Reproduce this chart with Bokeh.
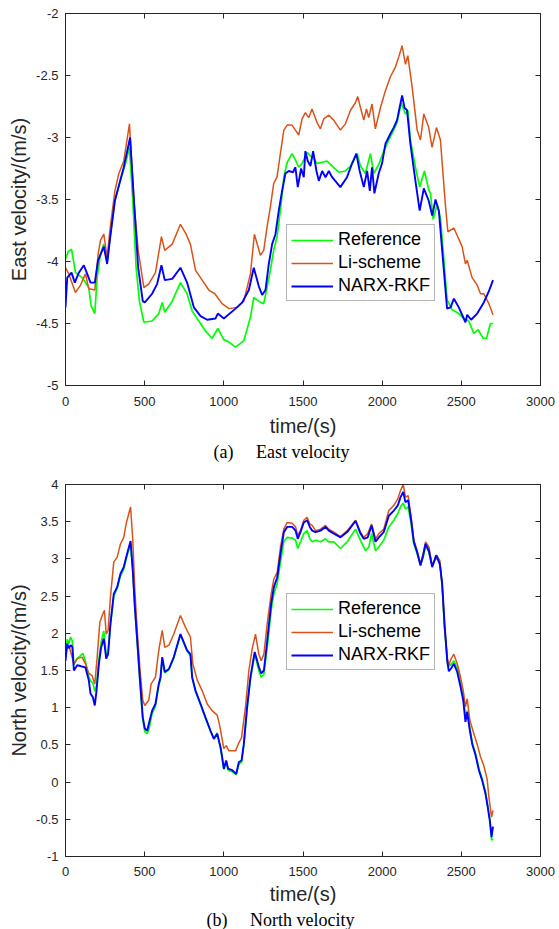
from bokeh.plotting import figure
from bokeh.models import Range1d, LinearAxis, FixedTicker, Title, Legend
from bokeh.layouts import column
from bokeh.embed import file_html
from bokeh.resources import INLINE

# ---------------- data ----------------
# (a) East velocity
east_ref_t = [0, 6, 17, 38, 63, 105, 126, 147, 162, 185, 200, 221, 242, 263, 284, 312, 341, 379, 404, 425,
              446, 467, 495, 547, 589, 611, 627, 674, 726, 768, 800, 842, 884, 926, 962, 1000, 1032, 1074,
              1126, 1168, 1189, 1221, 1252, 1273, 1294, 1315, 1336, 1357, 1379, 1400, 1431, 1452, 1473,
              1494, 1526, 1547, 1568, 1589, 1621, 1652, 1684, 1726, 1768, 1800, 1842, 1863, 1894, 1926,
              1947, 1978, 2010, 2042, 2073, 2094, 2120, 2147, 2162, 2178, 2210, 2237, 2267, 2294, 2305,
              2322, 2347, 2368, 2390, 2410, 2442, 2484, 2516, 2547, 2579, 2606, 2638, 2659, 2684, 2700]
east_ref_v = [-3.98, -3.96, -3.92, -3.90, -4.09, -4.13, -4.17, -4.21, -4.36, -4.42, -4.13, -3.94, -3.86,
              -4.00, -3.78, -3.51, -3.37, -3.21, -3.08, -3.51, -4.05, -4.32, -4.49, -4.48, -4.42, -4.33,
              -4.41, -4.32, -4.17, -4.26, -4.40, -4.48, -4.56, -4.62, -4.54, -4.63, -4.65, -4.69, -4.64,
              -4.45, -4.29, -4.32, -4.34, -4.21, -4.07, -3.91, -3.80, -3.59, -3.32, -3.20, -3.13, -3.18,
              -3.24, -3.21, -3.12, -3.15, -3.17, -3.21, -3.20, -3.19, -3.23, -3.28, -3.27, -3.23, -3.13,
              -3.23, -3.29, -3.13, -3.29, -3.22, -3.11, -3.02, -2.94, -2.88, -2.72, -2.81, -2.78, -3.02,
              -3.24, -3.40, -3.27, -3.42, -3.45, -3.66, -3.54, -3.65, -3.99, -4.31, -4.39, -4.42, -4.46,
              -4.48, -4.58, -4.55, -4.62, -4.62, -4.50, -4.50]

east_li_t = [0, 21, 63, 95, 126, 147, 185, 206, 221, 242, 263, 280, 312, 337, 368, 404, 432, 459, 495, 526,
             568, 606, 627, 674, 726, 762, 789, 821, 863, 905, 943, 989, 1032, 1084, 1126, 1168, 1193, 1231,
             1252, 1273, 1294, 1315, 1336, 1357, 1379, 1400, 1431, 1452, 1473, 1494, 1515, 1536, 1557, 1589,
             1610, 1631, 1663, 1694, 1736, 1768, 1800, 1831, 1846, 1863, 1884, 1901, 1915, 1936, 1957, 1989,
             2021, 2052, 2084, 2105, 2126, 2147, 2162, 2189, 2221, 2242, 2263, 2294, 2315, 2343, 2368, 2399,
             2415, 2453, 2484, 2505, 2526, 2537, 2568, 2600, 2621, 2642, 2674, 2700]
east_li_v = [-4.05, -4.10, -4.25, -4.19, -4.10, -4.22, -4.23, -3.94, -3.83, -3.78, -3.97, -3.75, -3.43,
             -3.29, -3.19, -2.89, -3.51, -3.91, -4.21, -4.18, -4.09, -3.80, -3.91, -3.86, -3.70, -3.78,
             -3.86, -4.07, -4.15, -4.23, -4.26, -4.34, -4.38, -4.37, -4.32, -4.10, -3.78, -3.95, -3.91,
             -3.72, -3.56, -3.37, -3.32, -3.13, -2.94, -2.90, -2.90, -2.94, -2.98, -2.85, -2.80, -2.84,
             -2.77, -2.88, -2.93, -2.85, -2.82, -2.86, -2.94, -2.89, -2.78, -2.72, -2.67, -2.76, -2.86,
             -2.77, -2.84, -2.73, -2.93, -2.76, -2.62, -2.51, -2.43, -2.35, -2.26, -2.41, -2.34, -2.59,
             -2.94, -3.02, -2.81, -2.92, -3.08, -2.92, -3.02, -3.54, -3.76, -3.73, -3.82, -3.88, -4.02,
             -3.99, -4.13, -4.19, -4.26, -4.26, -4.34, -4.43]

east_narx_t = [0, 11, 38, 59, 84, 116, 137, 158, 185, 206, 242, 263, 280, 312, 337, 368, 408, 434, 459, 488,
               501, 547, 579, 606, 627, 674, 726, 768, 811, 853, 895, 947, 962, 1000, 1074, 1116, 1158, 1189,
               1221, 1242, 1263, 1284, 1305, 1326, 1347, 1368, 1389, 1410, 1437, 1452, 1467, 1488, 1505,
               1515, 1530, 1547, 1564, 1585, 1600, 1621, 1642, 1663, 1684, 1736, 1778, 1810, 1837, 1858,
               1884, 1905, 1922, 1936, 1951, 1978, 1999, 2021, 2052, 2073, 2094, 2126, 2141, 2157, 2178,
               2210, 2237, 2263, 2294, 2316, 2337, 2358, 2379, 2410, 2432, 2453, 2484, 2526, 2537, 2562,
               2600, 2642, 2674, 2700]
east_narx_v = [-4.37, -4.13, -4.09, -4.17, -4.09, -4.03, -4.10, -4.17, -4.17, -3.99, -3.88, -4.02, -3.83,
               -3.51, -3.39, -3.24, -3.00, -3.54, -4.05, -4.32, -4.33, -4.26, -4.18, -4.03, -4.15, -4.14,
               -4.05, -4.17, -4.37, -4.44, -4.47, -4.46, -4.42, -4.46, -4.38, -4.33, -4.23, -4.05, -4.20,
               -4.27, -4.23, -4.02, -3.86, -3.78, -3.59, -3.43, -3.29, -3.27, -3.28, -3.24, -3.40, -3.25,
               -3.32, -3.11, -3.19, -3.23, -3.11, -3.27, -3.35, -3.27, -3.32, -3.27, -3.32, -3.40, -3.32,
               -3.21, -3.13, -3.27, -3.40, -3.27, -3.43, -3.24, -3.45, -3.29, -3.21, -3.05, -2.97, -2.92,
               -2.86, -2.66, -2.76, -2.78, -3.05, -3.35, -3.59, -3.41, -3.51, -3.63, -3.50, -3.59, -3.91,
               -4.38, -4.37, -4.30, -4.37, -4.49, -4.43, -4.47, -4.42, -4.33, -4.24, -4.15]

# (b) North velocity
north_ref_t = [0, 11, 21, 32, 43, 53, 74, 95, 110, 126, 147, 158, 173, 185, 196, 211, 225, 242, 257, 269,
               284, 305, 326, 347, 368, 389, 411, 425, 438, 453, 469, 488, 501, 516, 526, 547, 568, 589, 600,
               611, 627, 653, 684, 726, 768, 789, 800, 821, 853, 884, 916, 937, 958, 979, 989, 1000, 1015,
               1027, 1053, 1078, 1095, 1112, 1126, 1147, 1168, 1195, 1221, 1236, 1253, 1274, 1299, 1316,
               1337, 1358, 1379, 1400, 1432, 1453, 1467, 1484, 1505, 1526, 1543, 1558, 1579, 1611, 1642,
               1663, 1695, 1737, 1779, 1832, 1863, 1895, 1916, 1933, 1958, 1979, 2010, 2042, 2074, 2099,
               2116, 2133, 2147, 2164, 2183, 2200, 2221, 2242, 2259, 2274, 2295, 2316, 2343, 2364, 2379,
               2394, 2415, 2436, 2453, 2474, 2495, 2512, 2526, 2537, 2554, 2569, 2590, 2611, 2632, 2653,
               2667, 2680, 2691, 2700]
north_ref_v = [1.70, 1.92, 1.86, 1.95, 1.90, 1.58, 1.66, 1.70, 1.73, 1.62, 1.42, 1.36, 1.33, 1.22, 1.30,
               1.65, 1.88, 2.03, 1.70, 1.75, 2.12, 2.50, 2.60, 2.77, 2.86, 3.05, 3.20, 2.84, 2.35, 1.88,
               1.38, 0.84, 0.68, 0.65, 0.70, 0.92, 1.02, 1.30, 1.38, 1.66, 1.47, 1.51, 1.67, 1.98, 1.76,
               1.70, 1.40, 1.22, 1.04, 0.86, 0.68, 0.59, 0.66, 0.46, 0.33, 0.17, 0.27, 0.16, 0.14, 0.10,
               0.24, 0.27, 0.49, 0.98, 1.38, 1.72, 1.50, 1.41, 1.45, 1.81, 2.31, 2.53, 2.67, 2.96, 3.23,
               3.29, 3.28, 3.25, 3.14, 3.23, 3.34, 3.38, 3.27, 3.23, 3.25, 3.23, 3.27, 3.23, 3.23, 3.14,
               3.23, 3.40, 3.25, 3.11, 3.16, 3.34, 3.11, 3.16, 3.25, 3.43, 3.52, 3.61, 3.70, 3.75, 3.67,
               3.70, 3.47, 3.20, 3.07, 2.93, 3.02, 3.18, 3.09, 2.91, 3.02, 2.96, 2.64, 2.06, 1.55, 1.58,
               1.63, 1.53, 1.33, 1.14, 0.88, 0.96, 0.72, 0.53, 0.38, 0.18, 0.04, -0.14, -0.32, -0.50,
               -0.78, -0.76]

north_li_t = [0, 11, 25, 53, 74, 105, 126, 147, 168, 185, 200, 217, 232, 246, 257, 269, 284, 305, 326, 347,
              368, 383, 400, 411, 425, 438, 453, 469, 488, 501, 526, 541, 568, 589, 611, 627, 653, 684, 726,
              758, 789, 804, 832, 863, 895, 926, 958, 972, 989, 1000, 1015, 1032, 1074, 1091, 1112, 1137,
              1158, 1179, 1200, 1221, 1236, 1253, 1274, 1299, 1316, 1337, 1358, 1379, 1400, 1432, 1453,
              1467, 1484, 1505, 1526, 1543, 1558, 1579, 1611, 1642, 1663, 1695, 1737, 1779, 1832, 1863,
              1884, 1909, 1933, 1958, 1979, 2010, 2042, 2074, 2099, 2116, 2133, 2147, 2164, 2183, 2200,
              2221, 2242, 2259, 2274, 2295, 2316, 2343, 2364, 2379, 2394, 2411, 2421, 2436, 2453, 2474,
              2495, 2512, 2526, 2537, 2554, 2579, 2600, 2621, 2642, 2663, 2674, 2691, 2700]
north_li_v = [1.68, 1.84, 1.81, 1.59, 1.66, 1.68, 1.59, 1.46, 1.43, 1.32, 1.68, 2.15, 2.24, 2.31, 1.99,
              2.04, 2.49, 2.96, 3.02, 3.20, 3.29, 3.47, 3.61, 3.70, 3.25, 2.58, 2.04, 1.55, 1.10, 1.03,
              1.10, 1.32, 1.41, 1.77, 2.04, 1.81, 1.84, 1.99, 2.24, 2.08, 1.95, 1.59, 1.37, 1.23, 1.05,
              0.96, 0.90, 0.78, 0.58, 0.45, 0.49, 0.42, 0.42, 0.51, 0.60, 1.01, 1.50, 1.79, 1.99, 1.72,
              1.63, 1.72, 2.13, 2.53, 2.73, 2.82, 3.16, 3.40, 3.49, 3.48, 3.43, 3.32, 3.38, 3.52, 3.56,
              3.47, 3.45, 3.38, 3.40, 3.45, 3.40, 3.36, 3.30, 3.38, 3.52, 3.36, 3.29, 3.34, 3.47, 3.27,
              3.34, 3.40, 3.65, 3.72, 3.81, 3.92, 4.00, 3.83, 3.85, 3.56, 3.25, 3.11, 2.93, 3.07, 3.23,
              3.16, 2.91, 3.05, 2.98, 2.62, 2.08, 1.68, 1.57, 1.66, 1.72, 1.59, 1.41, 1.23, 1.01, 1.12,
              0.83, 0.65, 0.51, 0.34, 0.22, 0.04, -0.20, -0.47, -0.38]

north_narx_t = [0, 11, 21, 32, 43, 53, 74, 95, 126, 147, 158, 173, 185, 196, 211, 225, 242, 257, 269, 284,
                305, 326, 347, 368, 389, 411, 425, 438, 453, 469, 488, 501, 516, 526, 547, 568, 589, 600,
                611, 627, 653, 684, 726, 768, 789, 800, 821, 853, 884, 916, 937, 958, 979, 989, 1000, 1015,
                1027, 1053, 1078, 1095, 1112, 1126, 1147, 1168, 1195, 1221, 1236, 1253, 1274, 1299, 1316,
                1337, 1358, 1379, 1400, 1432, 1453, 1467, 1484, 1505, 1526, 1543, 1558, 1579, 1611, 1642,
                1663, 1695, 1737, 1779, 1832, 1863, 1884, 1909, 1933, 1958, 1979, 2010, 2042, 2074, 2099,
                2116, 2133, 2147, 2164, 2183, 2200, 2221, 2242, 2259, 2274, 2295, 2316, 2341, 2364, 2379,
                2394, 2411, 2421, 2436, 2453, 2474, 2495, 2512, 2526, 2537, 2554, 2569, 2590, 2611, 2632,
                2653, 2667, 2680, 2691, 2700]
north_narx_v = [1.63, 1.86, 1.80, 1.84, 1.82, 1.50, 1.57, 1.56, 1.54, 1.37, 1.19, 1.14, 1.03, 1.23, 1.59,
                1.81, 1.93, 1.66, 1.72, 2.13, 2.53, 2.62, 2.80, 2.89, 3.07, 3.24, 2.84, 2.35, 1.90, 1.41,
                0.87, 0.72, 0.69, 0.78, 0.96, 1.05, 1.32, 1.41, 1.68, 1.48, 1.52, 1.68, 1.99, 1.77, 1.72,
                1.41, 1.23, 1.05, 0.87, 0.69, 0.58, 0.65, 0.47, 0.34, 0.18, 0.29, 0.18, 0.16, 0.11, 0.27,
                0.29, 0.51, 1.01, 1.41, 1.75, 1.55, 1.46, 1.50, 1.90, 2.40, 2.62, 2.75, 3.07, 3.36, 3.43,
                3.43, 3.38, 3.27, 3.36, 3.49, 3.52, 3.43, 3.38, 3.36, 3.38, 3.43, 3.38, 3.34, 3.29, 3.36,
                3.51, 3.34, 3.27, 3.29, 3.45, 3.23, 3.29, 3.36, 3.58, 3.65, 3.72, 3.83, 3.90, 3.76, 3.79,
                3.52, 3.23, 3.09, 2.91, 3.05, 3.20, 3.11, 2.89, 3.05, 2.93, 2.67, 2.13, 1.63, 1.49, 1.53,
                1.59, 1.48, 1.28, 1.10, 0.81, 0.94, 0.69, 0.51, 0.36, 0.16, 0.02, -0.16, -0.34, -0.52,
                -0.74, -0.60]

series_names = ["Reference", "Li-scheme", "NARX-RKF"]
series_colors = ["#00ff00", "#d95319", "#0000ff"]
series_widths = [1.7, 1.5, 1.9]

x_ticks = [0, 500, 1000, 1500, 2000, 2500, 3000]
x_tick_labels = ["0", "500", "1000", "1500", "2000", "2500", "3000"]
east_ticks = [-5, -4.5, -4, -3.5, -3, -2.5, -2]
east_tick_labels = ["-5", "-4.5", "-4", "-3.5", "-3", "-2.5", "-2"]
north_ticks = [-1, -0.5, 0, 0.5, 1, 1.5, 2, 2.5, 3, 3.5, 4]
north_tick_labels = ["-1", "-0.5", "0", "0.5", "1", "1.5", "2", "2.5", "3", "3.5", "4"]

SANS = "Liberation Sans"
SERIF = "Liberation Serif"
AX = "#262626"


def style_axis(ax, ticks, labels, show_labels=True):
    ax.ticker = FixedTicker(ticks=ticks)
    ax.minor_tick_line_color = None
    ax.major_tick_in = 5
    ax.major_tick_out = 0
    ax.major_tick_line_color = AX
    ax.axis_line_color = AX
    ax.axis_line_width = 1
    if show_labels:
        ax.major_label_overrides = {t: l for t, l in zip(ticks, labels)}
        ax.major_label_text_font = SANS
        ax.major_label_text_font_size = "13px"
        ax.major_label_text_color = AX
    else:
        ax.major_label_overrides = {t: "" for t in ticks}
        ax.major_label_text_font_size = "1px"
        ax.major_label_standoff = 0


def make_panel(height, border_top, border_bottom, y_range, yticks, ylabels, ylabel,
               series, caption, cap_offset, legend_loc, tick_standoff, label_standoff, cap_standoff):
    p = figure(width=559, height=height, x_range=Range1d(0, 3000), y_range=Range1d(*y_range),
               output_backend="svg", toolbar_location=None,
               min_border_left=65, min_border_right=19,
               min_border_top=border_top, min_border_bottom=border_bottom,
               background_fill_color="white", border_fill_color="white")
    p.grid.visible = False
    p.outline_line_color = AX
    p.outline_line_width = 1

    style_axis(p.xaxis[0], x_ticks, x_tick_labels)
    style_axis(p.yaxis[0], yticks, ylabels)
    p.xaxis[0].major_label_standoff = tick_standoff
    p.yaxis[0].major_label_standoff = 7
    for ax, lab, stand in ((p.xaxis[0], "time/(s)", label_standoff), (p.yaxis[0], ylabel, 3)):
        ax.axis_label = lab
        ax.axis_label_text_font = SANS
        ax.axis_label_text_font_size = "20px"
        ax.axis_label_text_font_style = "normal"
        ax.axis_label_text_color = AX
        ax.axis_label_standoff = stand

    top = LinearAxis()
    style_axis(top, x_ticks, x_tick_labels, show_labels=False)
    right = LinearAxis()
    style_axis(right, yticks, ylabels, show_labels=False)
    p.add_layout(top, "above")
    p.add_layout(right, "right")

    items = []
    for (tt, vv), name, col, lw in zip(series, series_names, series_colors, series_widths):
        r = p.line(tt, vv, line_color=col, line_width=lw)
        items.append((name, [r]))

    leg = Legend(items=items, location=legend_loc)
    leg.label_text_font = SANS
    leg.label_text_font_size = "18px"
    leg.label_text_color = "black"
    leg.glyph_width = 42
    leg.glyph_height = 18
    leg.label_height = 20
    leg.label_standoff = 5
    leg.spacing = 2
    leg.padding = 4
    leg.margin = 0
    leg.border_line_color = "#6b6b6b"
    leg.border_line_width = 1
    leg.background_fill_color = "white"
    leg.background_fill_alpha = 1
    p.add_layout(leg, "center")

    cap = Title(text=caption, align="left", offset=cap_offset,
                text_font=SERIF, text_font_size="18px", text_font_style="normal",
                text_color="black", standoff=cap_standoff)
    p.add_layout(cap, "below")
    return p


NB = "\u00a0" * 5
p1 = make_panel(470, 13, 85, (-5, -2), east_ticks, east_tick_labels, "East velocity/(m/s)",
                [(east_ref_t, east_ref_v), (east_li_t, east_li_v), (east_narx_t, east_narx_v)],
                "(a)" + NB + "East velocity", 148, (221, 84), 11, 6, 1)
p2 = make_panel(459, 14, 73, (-1, 4), north_ticks, north_tick_labels, "North velocity/(m/s)",
                [(north_ref_t, north_ref_v), (north_li_t, north_li_v), (north_narx_t, north_narx_v)],
                "(b)" + NB + "North velocity", 141, (221, 186), 10, 4, 0)

layout = column(p1, p2, spacing=0)
open("out.html", "w").write(file_html(layout, INLINE))
